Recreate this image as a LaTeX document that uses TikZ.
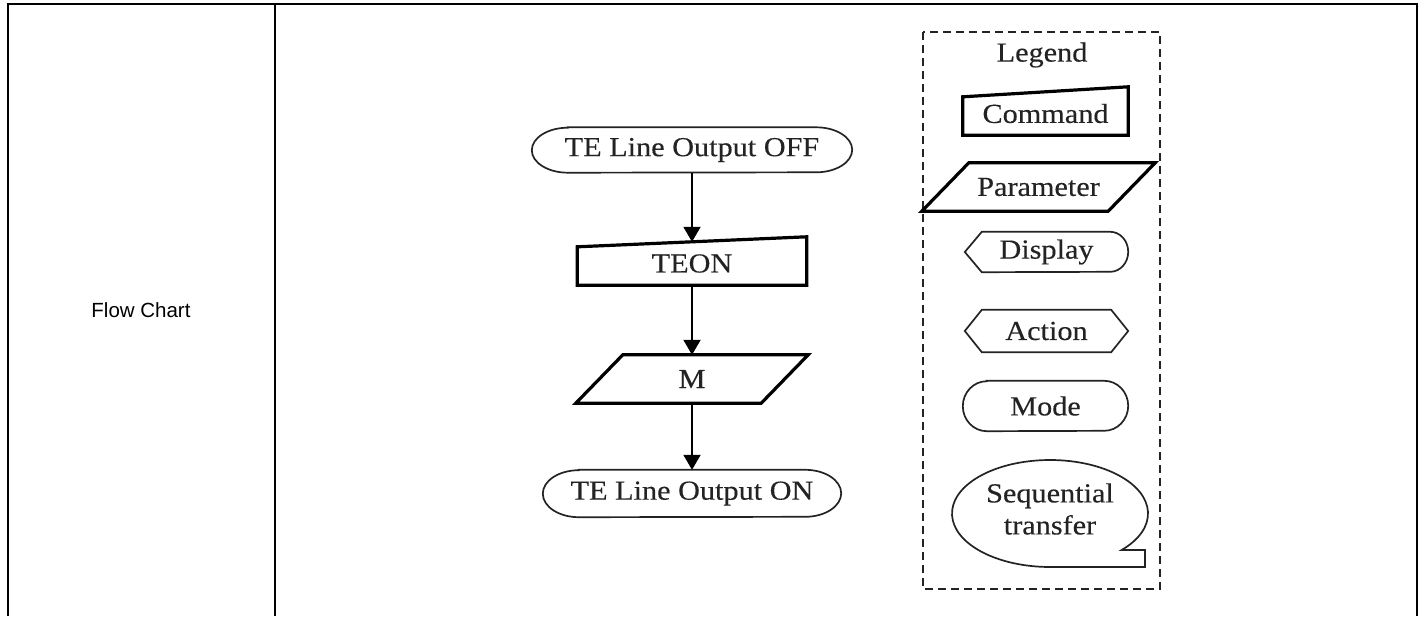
\documentclass[tikz,border=0pt]{standalone}
\usepackage{fontspec}
\setmainfont[FakeStretch=1.1, FakeBold=0.3]{Liberation Serif}
\newfontfamily\arialfont{Liberation Sans}
\usetikzlibrary{arrows.meta, calc}
\definecolor{inkgray}{RGB}{35, 35, 35}

\begin{document}
\begin{tikzpicture}[x=1pt, y=-1pt,
  flowtxt/.style={font=\fontsize{27.5}{32}\selectfont, text=inkgray, inner sep=0pt, align=center},
  boldline/.style={line width=3.2pt, line join=miter},
  thinline/.style={line width=1.7pt, inkgray},
  arr/.style={line width=2pt, -{Triangle[width=17pt, length=15pt]}},
  tableline/.style={line width=2.6pt}]
  \useasboundingbox (0,0) rectangle (1424,616);

  % table frame
  \draw[tableline] (8,616) -- (8,4) -- (1417,4) -- (1417,616);
  \draw[tableline] (275,4) -- (275,616);
  \node[font=\arialfont\fontsize{20.5}{24}\selectfont] (rowlabel) at (141,310) {Flow Chart};

  % flow
  \node[flowtxt, minimum width=320pt, minimum height=45pt] (off) at (692,150) {TE Line Output OFF};
  \draw[thinline] ([xshift=36pt]off.north west) -- ([xshift=-36pt]off.north east)
    arc[start angle=90, end angle=-90, x radius=36pt, y radius=22.5pt]
    -- ([xshift=36pt]off.south west)
    arc[start angle=270, end angle=90, x radius=36pt, y radius=22.5pt] -- cycle;

  \node[flowtxt, minimum width=229pt, minimum height=43pt] (teon) at (692,263.5) {TEON};
  \draw[boldline] (teon.south west) -- (teon.south east) -- ([yshift=5pt]teon.north east)
    -- ([yshift=-5pt]teon.north west) -- cycle;

  \node[flowtxt, minimum width=232pt, minimum height=48pt] (m) at (692,379) {M};
  \draw[boldline] (m.south west) -- ([xshift=-47pt]m.south east) -- (m.north east)
    -- ([xshift=47pt]m.north west) -- cycle;

  \node[flowtxt, minimum width=298pt, minimum height=47pt] (on) at (692,493.5) {TE Line Output ON};
  \draw[thinline] ([xshift=36pt]on.north west) -- ([xshift=-36pt]on.north east)
    arc[start angle=90, end angle=-90, x radius=36pt, y radius=23.5pt]
    -- ([xshift=36pt]on.south west)
    arc[start angle=270, end angle=90, x radius=36pt, y radius=23.5pt] -- cycle;

  \draw[arr] (off) -- (teon);
  \draw[arr] (teon) -- (m);
  \draw[arr] (m) -- (on);

  % legend
  \draw[line width=2.2pt, inkgray, dash pattern=on 8pt off 5pt] (923,32) rectangle (1160,589);
  \node[flowtxt] (legend) at (1042,55) {Legend};

  \node[flowtxt, minimum width=165pt, minimum height=43pt] (cmd) at (1045.5,113.5) {Command};
  \draw[boldline] (cmd.south west) -- (cmd.south east) -- ([yshift=5pt]cmd.north east)
    -- ([yshift=-5pt]cmd.north west) -- cycle;

  \node[flowtxt, minimum width=233pt, minimum height=48pt] (param) at (1038.5,187) {Parameter};
  \draw[boldline] (param.south west) -- ([xshift=-47pt]param.south east) -- (param.north east)
    -- ([xshift=47pt]param.north west) -- cycle;

  \node[flowtxt, minimum width=163pt, minimum height=40pt] (disp) at (1046.5,252) {Display};
  \draw[thinline] (disp.west) -- ([xshift=17pt]disp.north west) -- ([xshift=-18pt]disp.north east)
    arc[start angle=90, end angle=-90, x radius=18pt, y radius=20pt]
    -- ([xshift=17pt]disp.south west) -- cycle;

  \node[flowtxt, minimum width=163pt, minimum height=42pt] (act) at (1046.5,331) {Action};
  \draw[thinline] (act.west) -- ([xshift=17pt]act.north west) -- ([xshift=-17pt]act.north east)
    -- (act.east) -- ([xshift=-17pt]act.south east) -- ([xshift=17pt]act.south west) -- cycle;

  \node[flowtxt, minimum width=165pt, minimum height=50pt] (mode) at (1045.5,406) {Mode};
  \draw[thinline] ([xshift=24pt]mode.north west) -- ([xshift=-24pt]mode.north east)
    arc[start angle=90, end angle=-90, x radius=24pt, y radius=25pt]
    -- ([xshift=24pt]mode.south west)
    arc[start angle=270, end angle=90, x radius=24pt, y radius=25pt] -- cycle;

  \node[flowtxt] (seq) at (1050,509) {Sequential\\transfer};
  \coordinate (seqc) at (1050,513.5);
  \draw[thinline] ($(seqc)+(-43:98pt and 53.5pt)$)
    arc[start angle=-43, end angle=270, x radius=98pt, y radius=53.5pt]
    -- (1145,567) -- (1145,550) -- cycle;
\end{tikzpicture}
\end{document}
